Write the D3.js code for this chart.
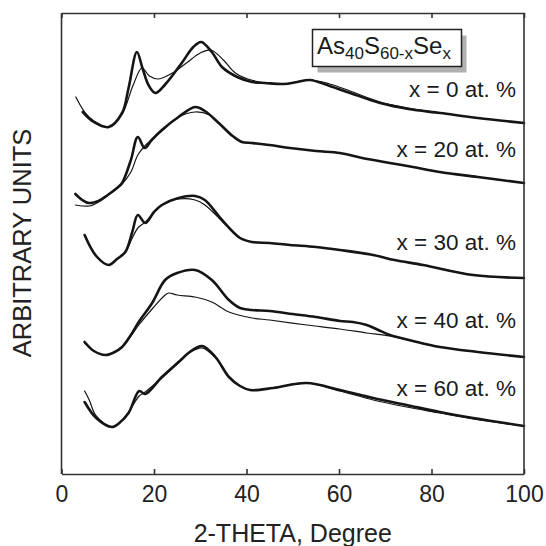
<!DOCTYPE html>
<html>
<head>
<meta charset="utf-8">
<script src="https://cdn.jsdelivr.net/npm/d3@7"></script>
<style>
  html, body { margin: 0; padding: 0; background: #fff; }
  svg { display: block; font-family: "Liberation Sans", Arial, Helvetica, sans-serif; }
</style>
</head>
<body>
<svg id="chart" width="546" height="546"></svg>
<script>
// X-ray diffraction patterns of As40S60-xSex glasses: measured (thick) and fitted (thin),
// stacked with vertical offsets in arbitrary intensity units.

const xTicks = [0, 20, 40, 60, 80, 100];
const xLabels = ["0", "20", "40", "60", "80", "100"];
const compositions = ["x = 0 at. %", "x = 20 at. %", "x = 30 at. %", "x = 40 at. %", "x = 60 at. %"];

// x = 0 at. %
const theta0m = [4.6, 7, 10.2, 13.1, 14.5, 16.3, 17.5, 18.8, 20.3, 22.5, 26, 28.5, 30.2, 32.5, 34.7, 38, 41.2, 44, 48, 51, 53.7, 58, 62.4, 68.9, 75, 81.9, 90, 100];
const int0m   = [362, 352, 347, 361, 386, 422, 406, 389, 381, 390, 411, 427, 432, 422, 407, 397, 392, 391, 390, 392, 394, 388, 381, 371, 365, 361, 356, 351];
const theta0f = [3.1, 5, 7, 10.2, 13.1, 15.5, 17.4, 19, 21, 24, 27, 30, 32.3, 35, 37.6, 41, 48, 53.7, 58, 62.4, 68.9, 75, 81.9, 90, 100];
const int0f   = [377, 362, 353, 347, 360, 389, 406, 398, 395, 401, 411, 421, 424, 414, 401, 394, 390, 394, 390, 383, 372, 366, 361, 356, 351];

// x = 20 at. %
const theta20m = [3, 4.5, 5.9, 8, 10, 12, 13.1, 15, 16.5, 18, 19.5, 21.7, 25.3, 28.9, 31, 34, 37, 39, 41.2, 45, 49.4, 55, 60.2, 65, 71, 76, 81.8, 90, 100];
const int20m   = [280, 274, 271, 273, 279, 286, 291, 314, 337, 326, 334, 344, 357, 367, 363, 351, 338, 332, 331, 329, 326, 323, 321, 316, 311, 307, 302, 297, 291];
const theta20f = [3, 6, 8, 10, 13.1, 15, 16.5, 18, 21.7, 25.3, 28.9, 32, 34, 37, 39, 41.2, 45, 49.4, 55, 60.2, 65, 71, 76, 81.8, 90, 100];
const int20f   = [269, 268, 272, 279, 290, 302, 319, 328, 343, 357, 362, 359, 351, 338, 332, 331, 329, 326, 323, 321, 316, 311, 307, 302, 297, 291];

// x = 30 at. %
const theta30m = [5, 7.5, 10.2, 12, 13.8, 15.3, 16.5, 18.1, 20, 21.7, 25.3, 28.9, 31, 34.7, 38.6, 41.2, 45, 49.4, 55, 60.2, 67.4, 72, 78.2, 89, 100];
const int30m   = [239, 218, 209, 215, 222, 242, 259, 251, 262, 269, 276, 278, 274, 254, 236, 232, 231, 229, 227, 224, 219, 214, 209, 199, 196];
const theta30f = [5, 7.5, 10.2, 12, 13.8, 15.3, 16.5, 18.1, 21.7, 25.3, 28.9, 31, 34.7, 38.6, 41.2, 45, 49.4, 55, 60.2, 67.4, 72, 78.2, 89, 100];
const int30f   = [238, 218, 209, 215, 222, 236, 246, 252, 269, 275, 274, 269, 253, 236, 232, 231, 229, 227, 224, 219, 214, 209, 199, 196];

// x = 40 at. %
const theta40m = [5, 7, 9.5, 11.5, 13.1, 15, 16.7, 19.6, 22.4, 25, 28.9, 32.5, 36.2, 38.6, 41.2, 45, 50, 55, 60.2, 63, 66, 68.5, 71, 76, 81.8, 90, 100];
const int40m   = [132, 123, 119, 122, 127, 139, 152, 171, 194, 201, 204, 194, 174, 166, 164, 163, 160, 157, 153, 152, 149, 144, 139, 133, 127, 122, 117];
const theta40f = [5, 7, 9.5, 11.5, 13.1, 15, 16.7, 19.6, 22.4, 23.2, 25, 28.9, 32.5, 36.2, 41.2, 45, 53, 60.2, 66, 71, 76, 81.8, 90, 100];
const int40f   = [131, 123, 119, 122, 127, 138, 149, 165, 179, 181, 179, 177, 172, 162, 156, 154, 149, 145, 141, 138, 133, 127, 122, 117];

// x = 60 at. %
const theta60m = [5, 7.5, 10.9, 12.5, 14.5, 16.8, 18.1, 21.7, 25.3, 28, 30.4, 33.3, 36.2, 38.6, 40.8, 45.8, 53, 60.2, 67.4, 74.6, 81.8, 89, 100];
const int60m   = [72, 56, 47, 51, 61, 83, 80, 97, 112, 123, 128, 117, 97, 88, 84, 86, 91, 84, 76, 69, 62, 56, 48];
const theta60f = [5, 6, 7.5, 10.9, 12.5, 14.5, 16.8, 18.1, 21.7, 25.3, 28, 30.4, 33.3, 36.2, 38.6, 40.8, 45.8, 53, 60.2, 67.4, 74.6, 81.8, 89, 100];
const int60f   = [83, 74, 58, 47, 51, 62, 78, 82, 96, 111, 122, 126, 116, 97, 88, 84, 86, 91, 83, 74, 67, 61, 55, 48];

const measured = [[theta0m, int0m], [theta20m, int20m], [theta30m, int30m], [theta40m, int40m], [theta60m, int60m]];
const fitted   = [[theta0f, int0f], [theta20f, int20f], [theta30f, int30f], [theta40f, int40f], [theta60f, int60f]];
const labelLevel = [377, 317, 224, 146, 78];   // text baseline, in intensity units

const svg = d3.select("#chart");
const m = { left: 61.5, right: 524, top: 13, bottom: 474 };

const x = d3.scaleLinear().domain([0, 100]).range([m.left, m.right]);
const y = d3.scaleLinear().domain([0, 461]).range([m.bottom, m.top]);

const toPoints = ([t, v]) => t.map((d, i) => [d, v[i]]);
const line = d3.line().x(d => x(d[0])).y(d => y(d[1])).curve(d3.curveCatmullRom.alpha(0.5));

const curves = svg.append("g").attr("fill", "none").attr("stroke", "#151515")
  .attr("stroke-linejoin", "round").attr("stroke-linecap", "round");

fitted.forEach(s => {
  curves.append("path").attr("d", line(toPoints(s))).attr("stroke-width", 1.2);
});
measured.forEach(s => {
  curves.append("path").attr("d", line(toPoints(s))).attr("stroke-width", 2.6);
});

// frame and axes
const frameColor = "#333";
const bottomAxis = d3.axisBottom(x).tickValues(xTicks).tickFormat((d, i) => xLabels[i])
  .tickSizeInner(-5).tickSizeOuter(0).tickPadding(12);
const gB = svg.append("g").attr("transform", `translate(0,${m.bottom})`).call(bottomAxis);
gB.selectAll("text").attr("font-size", 23).attr("fill", "#222")
  .attr("font-family", "'Liberation Sans', Arial, sans-serif");

const topAxis = d3.axisTop(x).tickValues(xTicks).tickFormat("").tickSizeInner(-5).tickSizeOuter(0);
svg.append("g").attr("transform", `translate(0,${m.top})`).call(topAxis);

const frame = svg.append("g");
frame.append("line").attr("x1", m.left).attr("x2", m.left).attr("y1", m.top).attr("y2", m.bottom);
frame.append("line").attr("x1", m.right).attr("x2", m.right).attr("y1", m.top).attr("y2", m.bottom);
svg.selectAll(".domain, .tick line, g > line").attr("stroke", frameColor).attr("stroke-width", 1.6);

// axis titles
svg.append("text").attr("x", (m.left + m.right) / 2).attr("y", 542)
  .attr("text-anchor", "middle").attr("font-size", 25).attr("fill", "#222")
  .text("2-THETA, Degree");
svg.append("text").attr("transform", `translate(31,${243}) rotate(-90)`)
  .attr("text-anchor", "middle").attr("font-size", 25.5).attr("fill", "#222")
  .text("ARBITRARY UNITS");

// composition labels
svg.append("g").selectAll("text").data(compositions).join("text")
  .attr("x", 516).attr("y", (d, i) => y(labelLevel[i]))
  .attr("text-anchor", "end").attr("font-size", 22.5).attr("fill", "#1a1a1a")
  .text(d => d);

// formula box with drop shadow
const box = { x: 312.5, y: 29.5, w: 149, h: 37 };
svg.append("rect").attr("x", box.x + 5).attr("y", box.y + 6).attr("width", box.w).attr("height", box.h)
  .attr("fill", "#b0b0b0");
svg.append("rect").attr("x", box.x).attr("y", box.y).attr("width", box.w).attr("height", box.h)
  .attr("fill", "#fff").attr("stroke", "#222").attr("stroke-width", 1.5);
const formula = svg.append("text").attr("x", 317).attr("y", 54).attr("font-size", 24).attr("fill", "#1a1a1a");
formula.append("tspan").text("As");
formula.append("tspan").attr("font-size", 17).attr("dy", 5).text("40");
formula.append("tspan").attr("dy", -5).text("S");
formula.append("tspan").attr("font-size", 17).attr("dy", 5).text("60-x");
formula.append("tspan").attr("dy", -5).text("Se");
formula.append("tspan").attr("font-size", 17).attr("dy", 5).text("x");
</script>
</body>
</html>
